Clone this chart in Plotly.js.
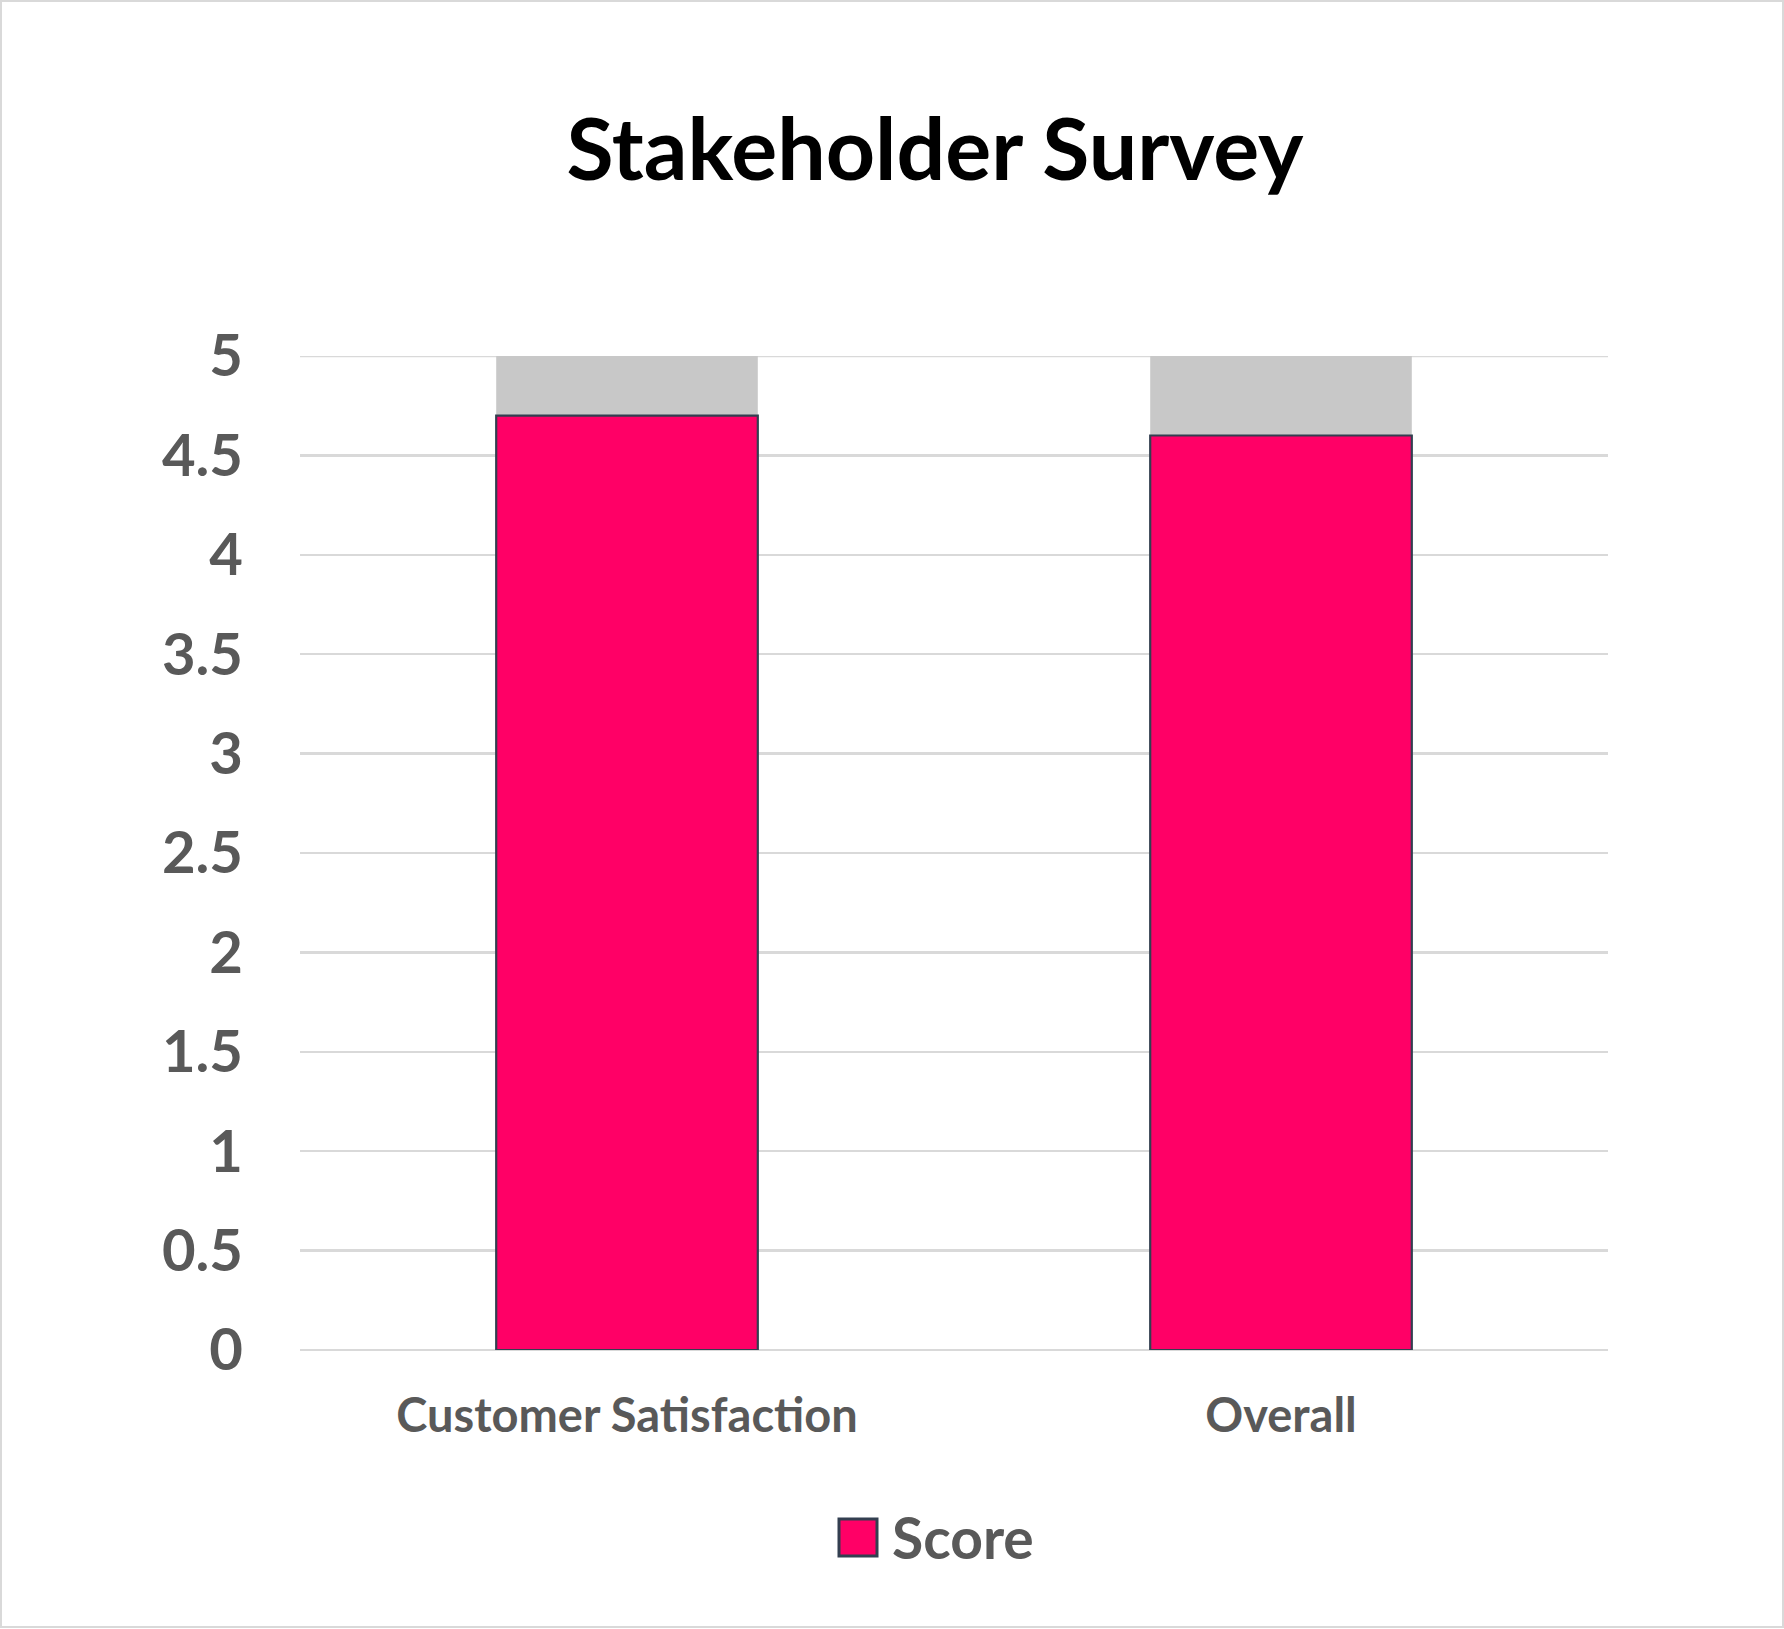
<!DOCTYPE html>
<html>
<head>
<meta charset="utf-8">
<script src="https://cdn.plot.ly/plotly-3.0.1.min.js"></script>
<style>
  html, body { margin:0; padding:0; background:#fff; }
  #chart { width:1784px; height:1629px; }
</style>
</head>
<body>
<div id="chart"></div>
<script>
// chart data
const categories = ['Customer Satisfaction', 'Overall'];
const scores = [4.7, 4.6];
const scaleMax = 5;
const yTicks = [0, 0.5, 1, 1.5, 2, 2.5, 3, 3.5, 4, 4.5, 5];
const seriesName = 'Score';

const PINK = '#FF0066';
const GREY_FILL = '#C8C8C8';
const EDGE = '#333F50';
const TXT = '#595959';
const GRID = '#D9D9D9';
const FONT = 'Lato, "Open Sans", sans-serif';

// grey cap = what is left up to the top of the 5-point scale
const remainder = scores.map(s => +(scaleMax - s).toFixed(2));

const data = [
  {
    x: categories,
    y: remainder,
    base: scores,
    type: 'bar',
    width: 0.4,
    marker: { color: GREY_FILL, line: { width: 0 } },
    showlegend: false,
    hoverinfo: 'skip'
  },
  {
    x: categories,
    y: scores,
    type: 'bar',
    name: seriesName,
    width: 0.4,
    marker: { color: PINK, line: { color: EDGE, width: 2.2 } }
  }
];

// plot area in px: x 300..1608, y 356..1350
function px2x(p){ return (p - 300) / 1308; }
function px2y(p){ return (1350 - p) / 994; }

const layout = {
  width: 1784,
  height: 1629,
  margin: { l: 300, r: 176, t: 356, b: 279 },
  paper_bgcolor: '#fff',
  plot_bgcolor: '#fff',
  barmode: 'overlay',
  showlegend: false,
  font: { family: FONT, color: TXT },
  title: {
    text: '<b>Stakeholder Survey</b>',
    font: { family: FONT, size: 86, color: '#000' },
    xref: 'container', x: 935 / 1784, xanchor: 'center',
    yref: 'container', y: 1 - 150 / 1629, yanchor: 'middle'
  },
  xaxis: {
    type: 'category',
    showgrid: false,
    showline: false,
    ticks: '',
    tickfont: { family: FONT, size: 47, color: TXT, weight: 'bold' },
    ticklabelstandoff: 34
  },
  yaxis: {
    range: [0, scaleMax],
    tickvals: yTicks,
    ticktext: yTicks.map(String),
    showgrid: true,
    gridcolor: GRID,
    gridwidth: 2.4,
    zeroline: true,
    zerolinecolor: GRID,
    zerolinewidth: 2.4,
    showline: false,
    ticks: '',
    tickfont: { family: FONT, size: 58, color: TXT, weight: 'bold' },
    ticklabelstandoff: 56
  },
  shapes: [
    // top gridline (plotly skips the one on the range edge)
    { type: 'line', xref: 'paper', yref: 'y', x0: 0, x1: 1, y0: scaleMax, y1: scaleMax,
      line: { color: GRID, width: 2.4 }, layer: 'below' },
    // chart border
    { type: 'rect', xref: 'paper', yref: 'paper',
      x0: px2x(1), x1: px2x(1783), y0: px2y(1627), y1: px2y(1),
      line: { color: GRID, width: 2 }, fillcolor: 'rgba(0,0,0,0)', layer: 'below' },
    // legend swatch
    { type: 'rect', xref: 'paper', yref: 'paper',
      x0: px2x(839), x1: px2x(877), y0: px2y(1556), y1: px2y(1519),
      line: { color: EDGE, width: 3 }, fillcolor: PINK }
  ],
  annotations: [
    { xref: 'paper', yref: 'paper', x: px2x(890), y: px2y(1537),
      xanchor: 'left', yanchor: 'middle', showarrow: false,
      text: '<b>' + seriesName + '</b>',
      font: { family: FONT, size: 57, color: TXT } }
  ]
};

Plotly.newPlot('chart', data, layout, { displayModeBar: false, staticPlot: true });
</script>
</body>
</html>
